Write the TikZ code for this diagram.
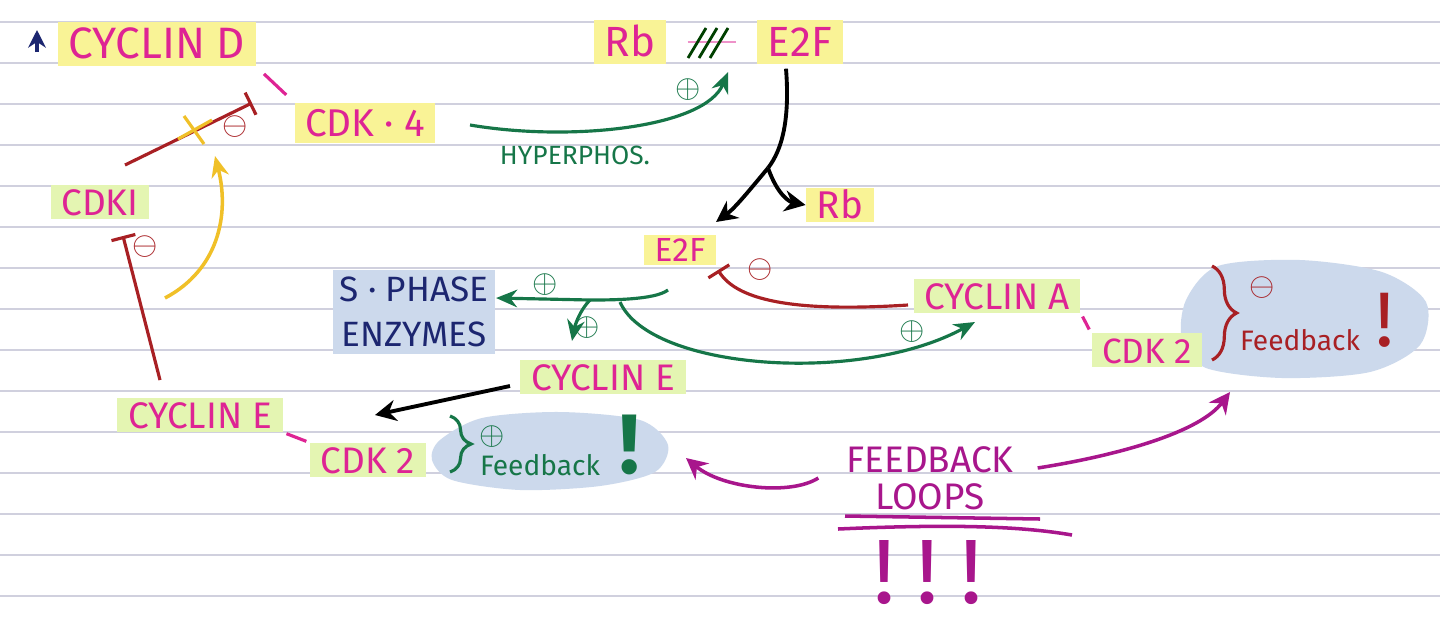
\documentclass[tikz,border=0pt]{standalone}
\usepackage{fontspec}
\setmainfont{Fira Sans}
\usetikzlibrary{arrows.meta,decorations.pathreplacing}

\definecolor{rulegray}{RGB}{208,208,222}
\definecolor{pinkc}{RGB}{222,36,148}
\definecolor{hlyellow}{RGB}{249,243,150}
\definecolor{hlgreen}{RGB}{228,245,178}
\definecolor{redc}{RGB}{168,32,36}
\definecolor{greenc}{RGB}{22,118,72}
\definecolor{navyc}{RGB}{28,38,112}
\definecolor{goldc}{RGB}{240,192,40}
\definecolor{cloudc}{RGB}{204,217,236}
\definecolor{purplec}{RGB}{168,22,140}

\begin{document}
\begin{tikzpicture}[x=0.01cm,y=-0.01cm,
  mol/.style={text=pinkc,font=\fontsize{10.5}{12}\selectfont,inner xsep=3pt,inner ysep=0.5pt,text height=8pt,text depth=0.5pt},
  ylw/.style={mol,fill=hlyellow},
  grn/.style={mol,fill=hlgreen},
  bond/.style={pinkc,line width=0.9pt,shorten <=1pt,shorten >=1pt},
  inhib/.style={redc,line width=0.9pt,-{Bar[width=7pt,line width=0.9pt]}},
  act/.style={greenc,line width=0.9pt,-{Stealth[length=6pt,width=5pt]}},
  sgn/.style={font=\fontsize{9}{9}\selectfont,inner sep=0pt},
  note/.style={font=\fontsize{8}{9}\selectfont,inner sep=1pt},
  bang/.style={font=\fontsize{22}{22}\selectfont,inner sep=0pt}]
\useasboundingbox (0,0) rectangle (1440,627);
\fill[white] (0,0) rectangle (1440,627);
\foreach \y in {22,63,...,600}
  \draw[rulegray,line width=0.7pt] (0,\y) -- (1440,\y);

% clouds
\fill[cloudc] plot[smooth cycle] coordinates {(440,440) (482,418) (560,412) (640,420) (668,445) (655,472) (600,486) (520,490) (452,480) (432,460)};
\fill[cloudc] plot[smooth cycle] coordinates {(1186,300) (1218,266) (1300,260) (1382,272) (1426,302) (1420,345) (1370,372) (1282,378) (1206,368) (1182,340)};

% molecules
\node[ylw,font=\fontsize{12.5}{14}\selectfont,text height=9pt,inner ysep=1.5pt] (cycD) at (157,44) {CYCLIN D};
\node[ylw,font=\fontsize{11}{13}\selectfont,inner ysep=1.5pt] (cdk4) at (365,123) {CDK · 4};
\node[ylw,font=\fontsize{12}{14}\selectfont,text height=9pt,inner ysep=1.5pt] (rbTop) at (630,42) {Rb};
\node[ylw,font=\fontsize{12}{14}\selectfont,text height=9pt,inner ysep=1.5pt] (e2fTop) at (800,42) {E2F};
\node[ylw,font=\fontsize{11}{13}\selectfont] (rbR) at (840,205) {Rb};
\node[ylw,font=\fontsize{9.5}{11}\selectfont,text height=7pt] (e2f) at (680,250) {E2F};
\node[grn] (cdki) at (100,202) {CDKI};
\node[grn] (cycEl) at (200,415) {CYCLIN E};
\node[grn] (cdk2l) at (368,460) {CDK 2};
\node[grn] (cycE) at (603,377) {CYCLIN E};
\node[grn] (cycA) at (997,296) {CYCLIN A};
\node[grn,font=\fontsize{10}{12}\selectfont] (cdk2r) at (1147,350) {CDK 2};
\node[text=navyc,fill=cloudc,font=\fontsize{10}{13}\selectfont,align=center,inner sep=2pt] (sphase) at (414,312) {S · PHASE\\ENZYMES};

% complexes
\draw[bond,shorten <=3pt,shorten >=3pt] (cycD.south east) -- (cdk4.north west);
\draw[bond] (cycEl.south east) -- (cdk2l.north west);
\draw[bond] (cycA.south east) -- (cdk2r.north west);

% CDKI block
\coordinate (cdkiTop) at (125,165);
\coordinate (dCplx) at (252,103);
\draw[inhib] (cdkiTop) -- (dCplx);
\node[sgn,text=redc] (m1) at (235,127) {$\ominus$};
\draw[goldc,line width=0.9pt] (184,116) -- (204,144) (178,139) -- (212,120);
\coordinate (goldStart) at (165,298);
\coordinate (goldEnd) at (215,156);
\draw[goldc,line width=1pt,-{Stealth[length=6pt,width=5pt]}] (goldStart) .. controls (218,270) and (230,215) .. (goldEnd);
\coordinate (eBase) at (160,380);
\coordinate (iTop) at (123,236);
\draw[inhib] (eBase) -- (iTop);
\node[sgn,text=redc] (m2) at (145,247) {$\ominus$};

% up arrow
\draw[navyc,line width=1.2pt,-{Stealth[length=5pt,width=5pt]}] (37,52) -- (37,30);

% Rb / E2F
\draw[pinkc!50,line width=0.8pt,shorten <=6pt,shorten >=6pt] (rbTop) -- (e2fTop);
\draw[black!75!green,line width=0.8pt] (688,58) -- (706,28) (699,58) -- (717,28) (710,58) -- (728,28);
\coordinate (hypStart) at (470,125);
\coordinate (hypEnd) at (728,72);
\draw[act] (hypStart) .. controls (570,142) and (705,128) .. (hypEnd);
\node[sgn,text=greenc] (p1) at (688,90) {$\oplus$};
\node[note,text=greenc,font=\fontsize{7.5}{8}\selectfont] (hyper) at (575,155) {HYPERPHOS.};
\coordinate (split) at (768,168);
\draw[line width=1.1pt] (e2fTop.south) ++(-14,4) .. controls (790,120) and (782,150) .. (split);
\draw[line width=1.1pt,-{Stealth[length=6pt,width=6pt]}] (split) .. controls (748,192) and (735,208) .. (716,222);
\draw[line width=1.1pt,-{Stealth[length=6pt,width=6pt]}] (split) .. controls (778,196) and (790,202) .. (rbR.west);

% E2F targets
\coordinate (e2fOut) at (668,290);
\coordinate (fork) at (590,300);
\draw[act] (e2fOut) .. controls (655,300) and (610,300) .. (fork) -- (sphase.east |- 0,298);
\node[sgn,text=greenc] (p2) at (545,285) {$\oplus$};
\draw[act] (fork) .. controls (580,310) and (575,325) .. (572,341);
\node[sgn,text=greenc] (p3) at (587,328) {$\oplus$};
\draw[act] (620,302) .. controls (650,370) and (860,385) .. (975,322);
\node[sgn,text=greenc] (p4) at (912,332) {$\oplus$};
\coordinate (aEnd) at (908,305);
\coordinate (eTip) at (718,270);
\draw[inhib] (aEnd) .. controls (800,312) and (738,302) .. (eTip);
\node[sgn,text=redc] (m3) at (760,270) {$\ominus$};

% cyclin E to complex
\coordinate (eStart) at (510,386);
\coordinate (eCplx) at (375,415);
\draw[line width=1.1pt,-{Stealth[length=6pt,width=6pt]}] (eStart) -- (eCplx);

% feedback notes
\draw[greenc,line width=0.9pt,decorate,decoration={brace,amplitude=6pt}] (450,416) -- (450,472);
\node[sgn,text=greenc] (p5) at (492,437) {$\oplus$};
\node[note,text=greenc] (fbL) at (540,465) {Feedback};
\node[bang,text=greenc,font=\fontsize{24}{24}\selectfont\bfseries] (bangL) at (630,445) {!};
\draw[redc,line width=0.9pt,decorate,decoration={brace,amplitude=7pt}] (1212,266) -- (1212,360);
\node[sgn,text=redc] (m4) at (1262,288) {$\ominus$};
\node[note,text=redc] (fbR) at (1300,340) {Feedback};
\node[bang,text=redc] (bangR) at (1385,320) {!};

% loops
\node[text=purplec,font=\fontsize{10.5}{10.5}\selectfont,align=center,inner sep=1pt] (loops) at (930,478) {FEEDBACK\\LOOPS};
\draw[purplec,line width=1pt,-{Stealth[length=6pt,width=6pt]}] (loops.west) ++(-24,0) .. controls (790,496) and (722,488) .. (686,458);
\draw[purplec,line width=1pt,-{Stealth[length=6pt,width=6pt]}] (loops.east) ++(20,-10) .. controls (1120,455) and (1200,432) .. (1230,392);
\draw[purplec,line width=1pt] (845,516) -- (1040,519);
\draw[purplec,line width=1pt] (838,529) .. controls (950,524) and (1020,526) .. (1072,535);
\node[bang,text=purplec,font=\fontsize{26}{26}\selectfont] (bangs) at (928,573) {!\hspace{6pt}!\hspace{6pt}!};
\end{tikzpicture}
\end{document}
